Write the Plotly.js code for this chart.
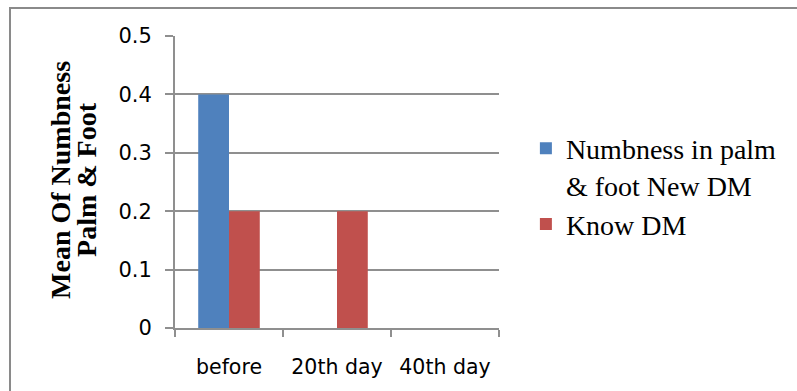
<!DOCTYPE html>
<html>
<head>
<meta charset="utf-8">
<script src="https://cdn.plot.ly/plotly-3.0.1.min.js"></script>
<style>
  html, body { margin: 0; padding: 0; background: #fff; }
  #wrap { position: relative; width: 797px; height: 391px; overflow: hidden; }
  #chart { position: absolute; left: 0; top: 0; width: 797px; height: 391px; }
  /* chart-area frame: only the top and left edges fall inside the window */
  #frame { position: absolute; left: 9px; top: 7px; width: 800px; height: 400px;
           border-left: 2px solid #8a8a8a; border-top: 2px solid #8a8a8a;
           pointer-events: none; }
</style>
</head>
<body>
<div id="wrap">
  <div id="chart"></div>
  <div id="frame"></div>
</div>
<script>
// Time points on the x axis
const categories = ['before', '20th day', '40th day'];

// Mean numbness scores per group
const newDM = [0.4, 0, 0];
const knowDM = [0.2, 0.2, 0];

const seriesNames = ['Numbness in palm<br>& foot New DM', 'Know DM'];
const seriesColors = ['#4f81bd', '#c0504d'];

// Two-line rotated y-axis title
const yTitleLines = ['Mean Of Numbness', 'Palm & Foot'];

const yTickVals = [0, 0.1, 0.2, 0.3, 0.4, 0.5];
const yTickText = ['0', '0.1', '0.2', '0.3', '0.4', '0.5'];

const gridGray = '#8f8f8f';
const plotLeft = 175, plotRight = 499;
const toPaperX = px => (px - plotLeft) / (plotRight - plotLeft);

const traces = [
  { type: 'bar', x: categories, y: newDM, name: seriesNames[0],
    marker: { color: seriesColors[0] } },
  { type: 'bar', x: categories, y: knowDM, name: seriesNames[1],
    marker: { color: seriesColors[1] } }
];

const layout = {
  width: 797, height: 391,
  margin: { l: 175, r: 298, t: 36, b: 63 },
  paper_bgcolor: '#ffffff', plot_bgcolor: '#ffffff',
  barmode: 'group', bargap: 0.43, bargroupgap: 0,
  showlegend: true,
  legend: {
    x: 1.083, xanchor: 'left', y: 0.70, yanchor: 'top',
    valign: 'top', tracegroupgap: 6,
    font: { family: 'Liberation Serif, Times New Roman, serif', size: 28, color: '#000' }
  },
  xaxis: {
    type: 'category', tickson: 'boundaries',
    ticks: 'outside', ticklen: 7, tickwidth: 2, tickcolor: gridGray,
    showline: true, linecolor: gridGray, linewidth: 2,
    showgrid: false, ticklabelstandoff: 19,
    tickfont: { family: 'DejaVu Sans, sans-serif', size: 20.5, color: '#000' },
    fixedrange: true
  },
  yaxis: {
    range: [0, 0.5], tickvals: yTickVals, ticktext: yTickText,
    ticks: 'outside', ticklen: 8, tickwidth: 2, tickcolor: gridGray,
    showline: true, linecolor: gridGray, linewidth: 2,
    showgrid: true, gridcolor: gridGray, gridwidth: 2,
    zeroline: false, ticklabelstandoff: 9,
    tickfont: { family: 'DejaVu Sans, sans-serif', size: 21, color: '#000' },
    fixedrange: true
  },
  annotations: yTitleLines.map((line, i) => ({
    text: '<b>' + line + '</b>',
    xref: 'paper', yref: 'paper',
    x: toPaperX(61 + i * 26), y: 0.507,
    xanchor: 'center', yanchor: 'middle',
    textangle: -90, showarrow: false,
    font: { family: 'Liberation Serif, Times New Roman, serif', size: 28, color: '#000' }
  }))
};

Plotly.newPlot('chart', traces, layout, { displayModeBar: false, staticPlot: true });
</script>
</body>
</html>
